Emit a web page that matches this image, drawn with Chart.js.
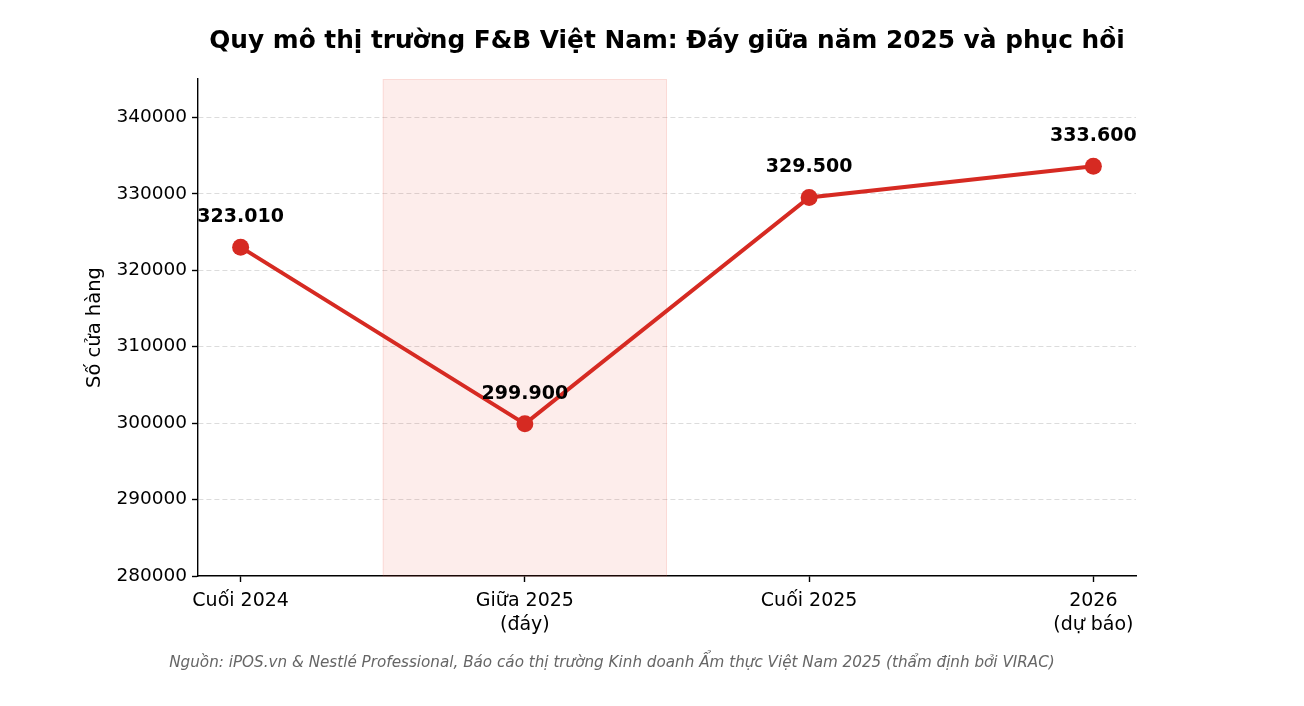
<!DOCTYPE html>
<html><head><meta charset="utf-8">
<script src="https://cdn.jsdelivr.net/npm/chart.js@4"></script>
<style>html,body{margin:0;padding:0;background:#fff}</style>
</head><body>
<canvas id="c" width="1304" height="706"></canvas>
<script>
const categories = [["Cuối 2024"], ["Giữa 2025", "(đáy)"], ["Cuối 2025"], ["2026", "(dự báo)"]];
const storeCounts = [323010, 299900, 329500, 333600];
const yTicks = [280000, 290000, 300000, 310000, 320000, 330000, 340000];
const troughBand = [0.5, 1.5];
const titleText = "Quy mô thị trường F&B Việt Nam: Đáy giữa năm 2025 và phục hồi";
const yTitle = "Số cửa hàng";
const sourceText = "Nguồn: iPOS.vn & Nestlé Professional, Báo cáo thị trường Kinh doanh Ẩm thực Việt Nam 2025 (thẩm định bởi VIRAC)";

const FONT = "'DejaVu Sans', sans-serif";
const RED = '#d62a22';
Chart.defaults.font.family = FONT;

function fmt(v) { return String(v).replace(/\B(?=(\d{3})+(?!\d))/g, '.'); }

const decor = {
  id: 'decor',
  beforeDatasetsDraw(chart) {
    const {ctx, chartArea, scales: {x}} = chart;
    const x0 = x.getPixelForValue(troughBand[0]);
    const x1 = x.getPixelForValue(troughBand[1]);
    ctx.save();
    ctx.fillStyle = 'rgba(231,76,60,0.10)';
    ctx.fillRect(x0, chartArea.top, x1 - x0, chartArea.bottom - chartArea.top);
    ctx.strokeStyle = 'rgba(231,76,60,0.12)';
    ctx.lineWidth = 1;
    ctx.strokeRect(x0 + 0.5, chartArea.top + 0.5, x1 - x0 - 1, chartArea.bottom - chartArea.top);
    ctx.restore();
  },
  afterDatasetsDraw(chart) {
    const {ctx} = chart;
    const meta = chart.getDatasetMeta(0);
    ctx.save();
    ctx.font = "bold 19px " + FONT;
    ctx.fillStyle = '#000';
    ctx.textAlign = 'center';
    ctx.textBaseline = 'middle';
    meta.data.forEach((pt, i) => {
      ctx.fillText(fmt(storeCounts[i]), pt.x, pt.y - 30);
    });
    ctx.restore();
  },
  afterDraw(chart) {
    const {ctx, chartArea} = chart;
    ctx.save();
    ctx.fillStyle = '#000';
    ctx.textAlign = 'center';
    ctx.textBaseline = 'middle';
    ctx.font = "bold 24.8px " + FONT;
    ctx.fillText(titleText, 667, 42);
    ctx.font = "19.5px " + FONT;
    ctx.save();
    ctx.translate(95, (chartArea.top + chartArea.bottom) / 2);
    ctx.rotate(-Math.PI / 2);
    ctx.fillText(yTitle, 0, 0);
    ctx.restore();
    ctx.font = "italic 15.2px " + FONT;
    ctx.fillStyle = '#666';
    ctx.fillText(sourceText, 612, 663);
    ctx.restore();
  }
};

new Chart(document.getElementById('c'), {
  type: 'line',
  data: {
    datasets: [{
      data: storeCounts.map((v, i) => ({x: i, y: v})),
      borderColor: RED,
      backgroundColor: RED,
      borderWidth: 4,
      pointRadius: 8.5,
      pointHoverRadius: 8.5,
      pointBackgroundColor: RED,
      pointBorderWidth: 0,
      tension: 0,
      clip: false
    }]
  },
  options: {
    responsive: false,
    animation: false,
    devicePixelRatio: 1,
    layout: {padding: {left: 0, right: 168, top: 79, bottom: 60}},
    plugins: {legend: {display: false}, title: {display: false}, tooltip: {enabled: false}},
    scales: {
      x: {
        type: 'linear',
        min: -0.15,
        max: 3.15,
        afterBuildTicks: s => { s.ticks = categories.map((_, i) => ({value: i})); },
        afterFit: s => { s.height = 70; },
        ticks: {
          callback: v => categories[v],
          color: '#000',
          font: {size: 19, lineHeight: 1.26},
          padding: 7,
          maxRotation: 0,
          autoSkip: false
        },
        grid: {drawOnChartArea: false, drawTicks: true, tickLength: 6, tickColor: '#000', tickWidth: 1.4},
        border: {color: '#000', width: 1.4}
      },
      y: {
        min: 280000,
        max: 345000,
        afterBuildTicks: s => { s.ticks = yTicks.map(v => ({value: v})); },
        afterFit: s => { s.width = 198; },
        ticks: {
          callback: v => String(v),
          color: '#000',
          font: {size: 18.5},
          padding: 5
        },
        grid: {
          color: ctx => (ctx.tick && ctx.tick.value === yTicks[0]) ? 'rgba(0,0,0,0)' : '#dcdcdc',
          lineWidth: 1,
          drawTicks: true,
          tickLength: 6,
          tickColor: '#000',
          tickWidth: 1.4,
          tickBorderDash: []
        },
        border: {color: '#000', width: 1.4, dash: [5, 3]}
      }
    }
  },
  plugins: [decor]
});
</script>
</body></html>
